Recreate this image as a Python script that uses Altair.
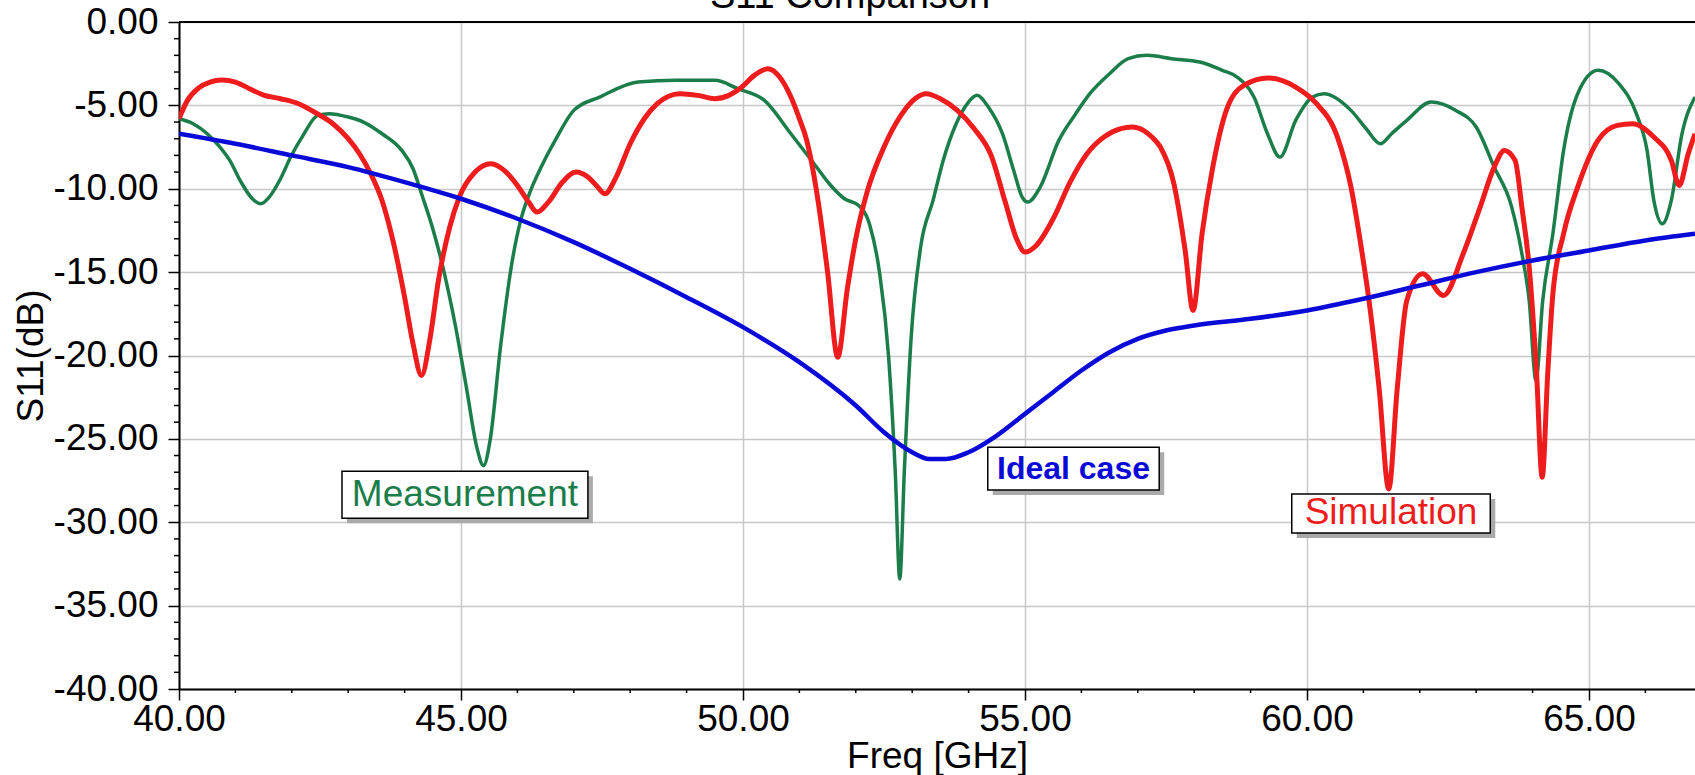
import altair as alt
import pandas as pd

title_text = "S11 Comparison"
x_title = "Freq [GHz]"
y_title = "S11(dB)"

meas_f = [40.0, 40.25, 40.5, 40.7, 40.9, 41.1, 41.3, 41.45, 41.6, 41.8, 41.98, 42.2, 42.46, 42.66, 43.0,
          43.27, 43.6, 43.95, 44.15, 44.3, 44.5, 44.7, 44.9, 45.1, 45.28, 45.4, 45.52, 45.7, 45.9, 46.05,
          46.19, 46.45, 46.67, 47.0, 47.46, 48.14, 48.82, 49.5, 49.91, 50.38, 50.85, 51.26, 51.53, 51.8,
          52.05, 52.25, 52.42, 52.58, 52.7, 52.78, 52.86, 52.98, 53.15, 53.37, 53.55, 53.78, 54.0, 54.15,
          54.35, 54.6, 54.8, 54.95, 55.05, 55.27, 55.6, 55.9, 56.15, 56.5, 56.83, 57.16, 57.6, 58.1, 58.5,
          58.76, 59.06, 59.3, 59.52, 59.8, 60.1, 60.3, 60.78, 61.05, 61.3, 61.5, 61.77, 62.2, 62.64, 63.0,
          63.32, 63.63, 63.8, 63.94, 64.06, 64.18, 64.36, 64.55, 64.8, 65.16, 65.53, 65.84, 66.03, 66.15,
          66.3, 66.46, 66.65, 66.88]
meas_db = [-5.8, -6.1, -6.7, -7.4, -8.3, -9.6, -10.6, -10.9, -10.5, -9.4, -8.1, -6.8, -5.6, -5.5, -5.7,
           -6.0, -6.7, -7.7, -8.8, -10.3, -12.4, -15.0, -18.2, -22.0, -25.5, -26.6, -25.0, -19.5, -14.5, -12.0,
           -10.5, -8.5, -7.1, -5.3, -4.5, -3.6, -3.5, -3.5, -4.0, -4.7, -6.7, -8.5, -9.7, -10.6,
           -11.0, -12.2, -15.0, -20.0, -27.0, -33.4, -27.0, -19.0, -13.5, -10.7, -8.3, -6.1, -4.8, -4.4,
           -5.1, -6.7, -8.9, -10.5, -10.8, -9.9, -7.1, -5.5, -4.3, -3.1, -2.2, -2.0, -2.2, -2.4, -2.9,
           -3.3, -4.5, -6.7, -8.1, -5.9, -4.5, -4.3, -5.3, -6.4, -7.3, -6.7, -5.9, -4.8, -5.3, -6.3,
           -8.7, -11.1, -13.7, -16.7, -21.5, -16.7, -12.7, -7.7, -4.3, -2.9, -3.7, -5.5, -7.7, -10.7,
           -12.1, -10.7, -6.7, -4.5]

sim_f = [40.0, 40.15, 40.35, 40.55, 40.76, 41.0, 41.25, 41.5, 41.8, 42.12, 42.45, 42.73, 43.0, 43.2, 43.4,
         43.6, 43.8, 44.0, 44.15, 44.3, 44.45, 44.6, 44.8, 44.97, 45.25, 45.53, 45.8, 46.0, 46.2, 46.35,
         46.55, 46.8, 47.04, 47.25, 47.4, 47.55, 47.75, 48.0, 48.25, 48.48, 48.88, 49.2, 49.5, 49.75, 49.98,
         50.2, 50.44, 50.65, 50.85, 51.0, 51.13, 51.33, 51.5, 51.68, 51.85, 52.0, 52.2, 52.5, 52.8, 53.05,
         53.25, 53.5, 53.8, 54.1, 54.4, 54.65, 54.85, 55.0, 55.2, 55.5, 55.8, 56.1, 56.4, 56.7, 56.9, 57.1,
         57.25, 57.4, 57.64, 57.84, 57.98, 58.14, 58.33, 58.57, 58.88, 59.31, 59.8, 60.17, 60.54, 60.78,
         60.97, 61.1, 61.28, 61.45, 61.6, 61.77, 62.05, 62.42, 62.77, 63.07, 63.32, 63.5, 63.69, 63.81,
         63.94, 64.07, 64.17, 64.27, 64.36, 64.55, 64.8, 65.16, 65.5, 65.78, 66.15, 66.46, 66.6, 66.76, 66.88]
sim_db = [-5.8, -4.7, -3.95, -3.6, -3.48, -3.6, -4.0, -4.38, -4.6, -4.9, -5.5, -6.1, -7.0, -7.9, -9.1,
          -10.7, -13.2, -16.5, -19.3, -21.2, -19.0, -15.5, -12.3, -10.5, -9.0, -8.5, -9.0, -9.8, -10.8, -11.4,
          -10.8, -9.6, -9.0, -9.3, -9.8, -10.3, -9.3, -7.3, -5.8, -4.9, -4.3, -4.4, -4.6, -4.4, -3.9,
          -3.2, -2.8, -3.3, -4.5, -5.8, -7.1, -10.7, -15.0, -20.1, -16.0, -13.0, -10.2, -7.5, -5.6, -4.6,
          -4.3, -4.6, -5.3, -6.4, -8.0, -10.8, -13.0, -13.8, -13.4, -11.8, -9.6, -7.9, -6.9, -6.4, -6.3, -6.5,
          -6.9, -7.5, -9.7, -13.7, -17.3, -12.7, -8.7, -5.3, -3.8, -3.36, -3.9, -4.9, -6.9, -9.9,
          -13.7, -16.7, -22.0, -28.0, -22.0, -16.7, -15.1, -16.4, -13.9, -11.1, -8.7, -7.7, -8.3, -11.1,
          -14.7, -21.0, -27.3, -21.0, -16.3, -12.7, -9.9, -7.1, -6.2, -6.1, -6.9, -8.3, -9.8, -7.9, -6.7]

ideal_f = [40.0, 41.0, 42.0, 43.0, 44.0, 45.0, 46.0, 47.0, 48.0, 49.0, 50.0, 51.0, 52.0, 52.5, 53.0, 53.3,
           53.6, 54.0, 54.5, 55.0, 55.5, 56.0, 56.5, 57.0, 57.5, 58.0, 59.0, 60.0, 61.0, 62.0, 63.0, 64.0,
           65.0, 66.0, 66.88]
ideal_db = [-6.7, -7.3, -8.0, -8.7, -9.6, -10.6, -11.8, -13.2, -14.8, -16.5, -18.3, -20.4, -23.0, -24.6,
            -25.8, -26.2, -26.2, -25.8, -24.8, -23.5, -22.2, -20.9, -19.8, -19.0, -18.5, -18.2, -17.8, -17.3,
            -16.6, -15.8, -15.0, -14.3, -13.7, -13.1, -12.7]

series_names = ["Measurement", "Simulation", "Ideal case"]
series_colors = ["#1b7d4a", "#ee1c1c", "#0a0ad8"]

label_names = ["Measurement", "Ideal case", "Simulation"]
label_f_left = [42.89, 54.34, 59.73]
label_f_right = [47.25, 57.38, 63.25]
label_db_top = [-26.94, -25.5, -28.3]
label_db_bottom = [-29.76, -28.07, -30.65]

x_domain = [40.0, 66.88]
y_domain = [-40.0, 0.0]
x_major = [40, 45, 50, 55, 60, 65]
y_major = [0, -5, -10, -15, -20, -25, -30, -35, -40]
x_minor = [41, 42, 43, 44, 46, 47, 48, 49, 51, 52, 53, 54, 56, 57, 58, 59, 61, 62, 63, 64, 66]
y_minor = [-1, -2, -3, -4, -6, -7, -8, -9, -11, -12, -13, -14, -16, -17, -18, -19,
           -21, -22, -23, -24, -26, -27, -28, -29, -31, -32, -33, -34, -36, -37, -38, -39]

W, H = 1516, 667
FONT = "Liberation Sans"
LABEL_EXPR = "replace(format(datum.value, '.2f'), '\u2212', '-')"

rows = []
for name, fs, ds in [("Measurement", meas_f, meas_db), ("Simulation", sim_f, sim_db),
                     ("Ideal case", ideal_f, ideal_db)]:
    for f, d in zip(fs, ds):
        rows.append({"f": f, "db": d, "series": name})
lines_df = pd.DataFrame(rows)

labels_df = pd.DataFrame({"series": label_names, "fl": label_f_left, "fr": label_f_right,
                          "dt": label_db_top, "dbm": label_db_bottom})

x_scale = alt.Scale(domain=x_domain, nice=False, zero=False)
y_scale = alt.Scale(domain=y_domain, nice=False, zero=False)
color_scale = alt.Scale(domain=series_names, range=series_colors)

x_axis = alt.Axis(values=x_major, labelExpr=LABEL_EXPR, title=x_title, labelFont=FONT, labelFontSize=37,
                  labelColor="black", labelPadding=1, labelFlush=False, labelOverlap=False,
                  tickSize=11, tickWidth=1.5, tickColor="black", domainColor="black", domainWidth=2,
                  grid=True, gridColor="#c8c8c8", gridWidth=1.5,
                  titleFont=FONT, titleFontSize=37, titleFontWeight="normal", titleColor="black",
                  titleY=78, titleBaseline="alphabetic")
y_axis = alt.Axis(values=y_major, labelExpr=LABEL_EXPR, title=y_title, labelFont=FONT, labelFontSize=37,
                  labelColor="black", labelPadding=10, labelFlush=False, labelOverlap=False,
                  tickSize=11, tickWidth=1.5, tickColor="black", domainColor="black", domainWidth=2,
                  grid=True, gridColor="#c8c8c8", gridWidth=1.5,
                  titleFont=FONT, titleFontSize=37, titleFontWeight="normal", titleColor="black",
                  titleX=-137, titleY=H / 2, titleAngle=270, titleAlign="center",
                  titleBaseline="alphabetic")


def X(field):
    return alt.X(field, type="quantitative", scale=x_scale, axis=x_axis)


def Y(field):
    return alt.Y(field, type="quantitative", scale=y_scale, axis=y_axis)


color_enc = alt.Color("series:N", scale=color_scale, legend=None)

base_lines = alt.Chart(lines_df)
widths = {"Measurement": 3.5, "Simulation": 5, "Ideal case": 4.5}
line_layers = []
for name in ["Measurement", "Simulation", "Ideal case"]:
    line_layers.append(
        base_lines.transform_filter(alt.datum.series == name)
        .mark_line(strokeWidth=widths[name], interpolate="monotone", clip=True)
        .encode(x=X("f"), y=Y("db"), color=color_enc)
    )

minor_x = alt.Chart(pd.DataFrame({"v": x_minor})).mark_rule(color="black", strokeWidth=1.5).encode(
    x=X("v"), y=alt.value(H), y2=alt.value(H + 4))
minor_y = alt.Chart(pd.DataFrame({"v": y_minor})).mark_rule(color="black", strokeWidth=1.5).encode(
    y=Y("v"), x=alt.value(-5), x2=alt.value(0))

top_border = alt.Chart(pd.DataFrame({"a": [0]})).mark_rule(color="black", strokeWidth=2).encode(
    x=alt.value(0), x2=alt.value(W), y=alt.value(0))

title = alt.Chart(pd.DataFrame({"t": [title_text]})).mark_text(
    font=FONT, fontSize=38, color="black", align="center", baseline="alphabetic").encode(
    text="t:N", x=alt.value(671), y=alt.value(-14))

lab = alt.Chart(labels_df)
shadow = lab.mark_rect(color="#aaaaaa", xOffset=5, x2Offset=5, yOffset=5, y2Offset=5).encode(
    x=X("fl"), x2="fr", y=Y("dt"), y2="dbm")
box = lab.mark_rect(fill="white", stroke="black", strokeWidth=1.5).encode(
    x=X("fl"), x2="fr", y=Y("dt"), y2="dbm")
lab_c = lab.transform_calculate(fc="(datum.fl + datum.fr) / 2", dc="(datum.dt + datum.dbm) / 2")
text_norm = lab_c.transform_filter(alt.datum.series != "Ideal case").mark_text(
    font=FONT, fontSize=37, align="center", baseline="middle").encode(
    x=X("fc"), y=Y("dc"), text="series:N", color=color_enc)
text_bold = lab_c.transform_filter(alt.datum.series == "Ideal case").mark_text(
    font=FONT, fontSize=32, fontWeight="bold", align="center", baseline="middle").encode(
    x=X("fc"), y=Y("dc"), text="series:N", color=color_enc)

chart = alt.layer(
    *line_layers, minor_x, minor_y, top_border, shadow, box, text_norm, text_bold, title
).properties(
    width=W, height=H,
    autosize=alt.AutoSizeParams(type="none"),
    padding={"left": 179, "top": 22, "right": 0, "bottom": 86},
    background="white",
).configure_view(strokeWidth=0)

chart.save("out.html", embed_options={"renderer": "svg", "actions": False})
